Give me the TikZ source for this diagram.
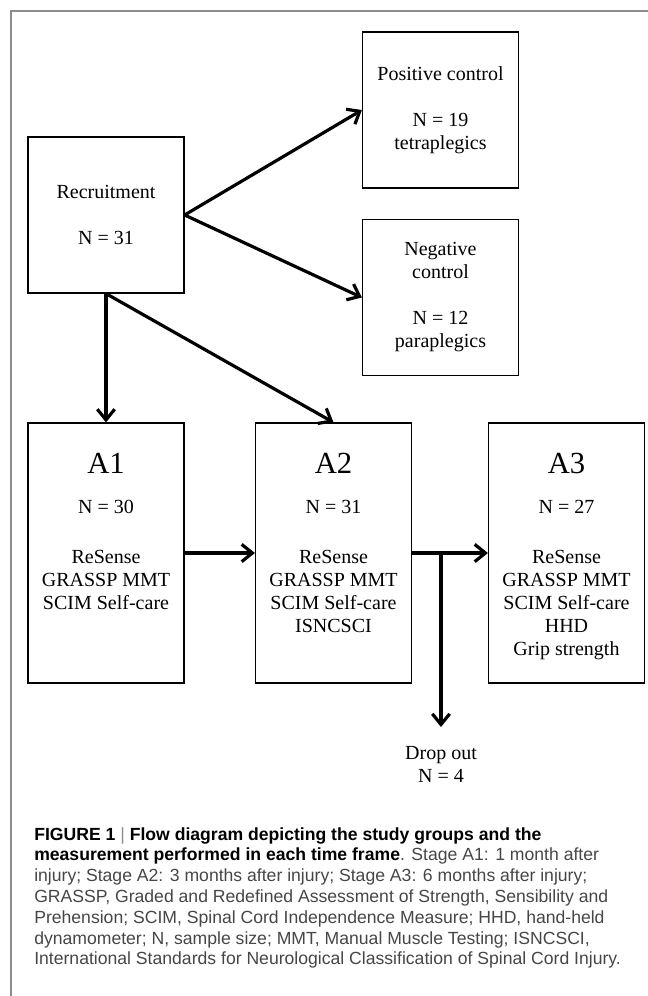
\documentclass[tikz,border=0pt]{standalone}
\usepackage{fontspec}
\setmainfont{Liberation Serif}
\newfontfamily\capfont{Liberation Sans}
\usetikzlibrary{arrows.meta}
\definecolor{framegray}{RGB}{140,140,140}
\definecolor{captext}{RGB}{70,70,70}

\begin{document}
\begin{tikzpicture}[x=0.75pt, y=-0.75pt,
  box/.style={draw, line width=0.9pt, minimum width=117pt, minimum height=117pt,
    inner sep=0pt, align=center, font=\fontsize{15}{17.25}\selectfont},
  stagebox/.style={draw, line width=0.9pt, minimum width=117pt, minimum height=195pt, inner sep=0pt},
  title/.style={inner sep=0pt, font=\fontsize{23}{26}\selectfont},
  txt/.style={inner sep=0pt, align=center, font=\fontsize{15}{17.25}\selectfont},
  arr/.style={line width=2.4pt, -{Straight Barb[length=8pt,width=13pt]}}]
\useasboundingbox (0,0) rectangle (648,996);
\draw[framegray, line width=0.8pt] (648,11) -- (11,11) -- (11,996);

% groups
\node[box] (rec) at (106,215) {Recruitment\\[17.25pt]N = 31};
\node[box] (pos) at (440.5,110) {Positive control\\[17.25pt]N = 19\\tetraplegics};
\node[box] (neg) at (440.5,297.5) {Negative\\control\\[17.25pt]N = 12\\paraplegics};

% time frames
\foreach \name/\x/\t/\n in {a1/106/A1/30, a2/333.5/A2/31, a3/566.5/A3/27}{
  \node[stagebox] (\name) at (\x,553) {};
  \node[title] (t\name) at (\x,463) {\t};
  \node[txt] (n\name) at (\x,507) {N = \n};
}
\node[txt, anchor=north] (la1) at (106,550) {ReSense\\GRASSP MMT\\SCIM Self-care};
\node[txt, anchor=north] (la2) at (333.5,550) {ReSense\\GRASSP MMT\\SCIM Self-care\\ISNCSCI};
\node[txt, anchor=north] (la3) at (566.5,550) {ReSense\\GRASSP MMT\\SCIM Self-care\\HHD\\Grip strength};

\coordinate (split) at (441,553);
\node[txt] (drop) at (441,764) {Drop out\\N = 4};

\draw[arr] (rec.east) -- (pos.west);
\draw[arr] (rec.east) -- (neg.west);
\draw[arr] (rec.south) -- (a1.north);
\draw[arr] (rec.south) -- (a2.north);
\draw[arr] (a1) -- (a2);
\draw[arr] (a2) -- (a3);
\draw[arr, shorten >=14pt] (split) -- (drop.north);

% caption
\node[anchor=north west, inner sep=0pt, align=left, text=captext,
  font=\capfont\fontsize{13.2}{15.6}\selectfont] (cap) at (34,827) {%
  {\bfseries\color{black}FIGURE 1} {\color{framegray}|} {\bfseries\color{black}Flow diagram depicting the study groups and the}\\
  {\bfseries\color{black}measurement performed in each time frame}. Stage A1: 1 month after\\
  injury; Stage A2: 3 months after injury; Stage A3: 6 months after injury;\\
  GRASSP, Graded and Redefined Assessment of Strength, Sensibility and\\
  Prehension; SCIM, Spinal Cord Independence Measure; HHD, hand-held\\
  dynamometer; N, sample size; MMT, Manual Muscle Testing; ISNCSCI,\\
  International Standards for Neurological Classification of Spinal Cord Injury.};
\end{tikzpicture}
\end{document}
